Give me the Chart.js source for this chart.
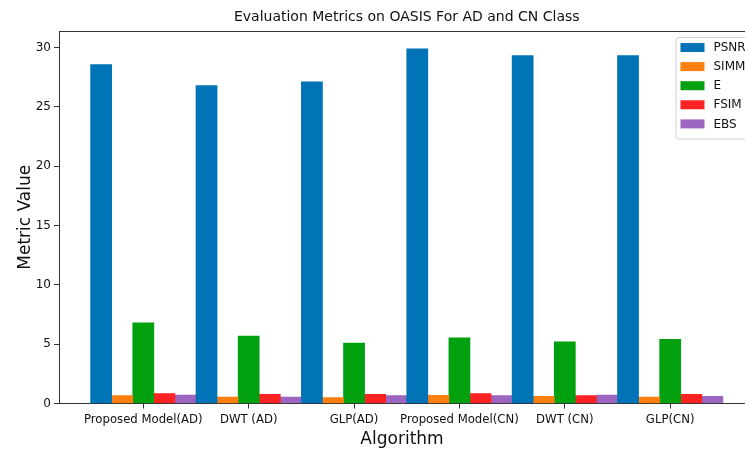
<!DOCTYPE html>
<html>
<head>
<meta charset="utf-8">
<script src="https://cdn.jsdelivr.net/npm/chart.js@4/dist/chart.umd.min.js"></script>
<style>
  html, body { margin: 0; padding: 0; background: #fff; overflow: hidden; }
</style>
</head>
<body>
<canvas id="metrics" width="745" height="450"></canvas>
<script>
// groups on the x axis
const algorithms = ['Proposed Model(AD)', 'DWT (AD)', 'GLP(AD)', 'Proposed Model(CN)', 'DWT (CN)', 'GLP(CN)']

// one list per metric
const psnr = [28.57, 26.79, 27.12, 29.89, 29.33, 29.33]
const simm = [0.66, 0.55, 0.49, 0.69, 0.60, 0.55]
const entropy = [6.80, 5.68, 5.09, 5.54, 5.20, 5.40]
const fsim = [0.83, 0.77, 0.77, 0.83, 0.66, 0.77]
const ebs = [0.72, 0.55, 0.66, 0.66, 0.72, 0.60]

const metricNames = ['PSNR', 'SIMM', 'E', 'FSIM', 'EBS']
const metricColors = ['#0173b7', '#ff7f0e', '#00a00f', '#ff2222', '#9c65bf']
const yTicks = [0, 5, 10, 15, 20, 25, 30]

const FONT = 'DejaVu Sans'
const toPoints = arr => arr.map((v, i) => ({ x: i, y: v }))

const datasets = [psnr, simm, entropy, fsim, ebs].map((vals, k) => ({
  label: metricNames[k],
  data: toPoints(vals),
  backgroundColor: metricColors[k],
  borderWidth: 0,
}))

// title, top spine and the matplotlib-style legend inside the axes
const decorations = {
  id: 'decorations',
  afterDraw(chart) {
    const { ctx, chartArea, scales } = chart
    const x = scales.x
    ctx.save()
    ctx.strokeStyle = '#333'
    ctx.lineWidth = 1
    ctx.beginPath()
    ctx.moveTo(chartArea.left, chartArea.top + 0.5)
    ctx.lineTo(chartArea.right, chartArea.top + 0.5)
    ctx.stroke()

    ctx.fillStyle = '#111'
    ctx.font = '14px "' + FONT + '"'
    ctx.textAlign = 'center'
    ctx.textBaseline = 'middle'
    ctx.fillText('Evaluation Metrics on OASIS For AD and CN Class', x.getPixelForValue(2.5), 17)

    // legend (its right part runs off the page, as in the original)
    const boxLeft = x.getPixelForValue(5.8) - 79
    const boxRight = boxLeft + 80
    const boxTop = chartArea.top + 6
    const rowH = 19.1
    const boxH = rowH * metricNames.length + 6
    ctx.fillStyle = 'rgba(255,255,255,0.85)'
    ctx.strokeStyle = '#d0d0d0'
    ctx.beginPath()
    ctx.roundRect(boxLeft + 0.5, boxTop + 0.5, boxRight - boxLeft, boxH, 3)
    ctx.fill()
    ctx.stroke()
    ctx.font = '12px "' + FONT + '"'
    ctx.textAlign = 'left'
    chart.data.datasets.forEach((ds, k) => {
      const cy = boxTop + 10.5 + k * rowH
      ctx.fillStyle = ds.backgroundColor
      ctx.fillRect(boxLeft + 5, cy - 4.5, 24, 9)
      ctx.fillStyle = '#111'
      ctx.fillText(ds.label, boxLeft + 38, cy + 0.5)
    })
    ctx.restore()
  },
}

const metricsConfig = {
  type: 'bar',
  data: { datasets },
  options: {
    responsive: false,
    animation: false,
    layout: { padding: { top: 31, right: 0, bottom: 0, left: 0 } },
    datasets: { bar: { barPercentage: 1, categoryPercentage: 1 } },
    scales: {
      x: {
        type: 'linear',
        min: -0.8,
        max: 5.71,
        offset: false,
        afterBuildTicks: axis => { axis.ticks = algorithms.map((_, i) => ({ value: i })) },
        afterFit: axis => { axis.height = 46.5 },
        grid: { display: true, drawOnChartArea: false, offset: false, tickLength: 5, color: '#333', tickColor: '#333' },
        border: { display: true, color: '#333', width: 1 },
        ticks: {
          autoSkip: false,
          maxRotation: 0,
          padding: 4,
          color: '#111',
          font: { family: FONT, size: 11.7 },
          callback: v => algorithms[v],
        },
        title: {
          display: true,
          text: 'Algorithm',
          color: '#111',
          font: { family: FONT, size: 17 },
          padding: { top: 0, bottom: 0 },
        },
      },
      y: {
        min: 0,
        max: 31.4,
        afterBuildTicks: axis => { axis.ticks = yTicks.map(v => ({ value: v })) },
        afterFit: axis => { axis.width = 59 },
        grid: { display: true, drawOnChartArea: false, tickLength: 5, color: '#333', tickColor: '#333' },
        border: { display: true, color: '#333', width: 1 },
        ticks: {
          padding: 3,
          color: '#111',
          font: { family: FONT, size: 12 },
        },
        title: {
          display: true,
          text: 'Metric Value',
          color: '#111',
          font: { family: FONT, size: 17 },
          padding: { top: 15, bottom: 0 },
        },
      },
    },
    plugins: {
      legend: { display: false },
      title: { display: false },
      tooltip: { enabled: false },
    },
  },
  plugins: [decorations],
}

const metricsCtx = document.getElementById('metrics')
window.metricsChart = new Chart(metricsCtx, metricsConfig)
</script>
</body>
</html>
